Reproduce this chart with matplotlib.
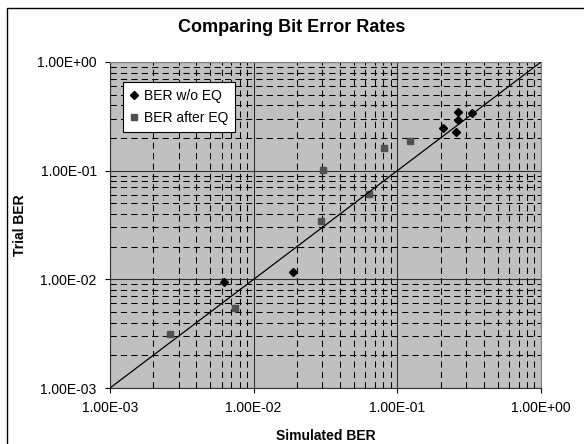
import matplotlib
matplotlib.use("Agg")
import matplotlib.pyplot as plt
from matplotlib.patches import Rectangle
from matplotlib.ticker import LogLocator, FuncFormatter, NullFormatter

plt.rcParams['font.family'] = ['Liberation Sans', 'DejaVu Sans']

# Data
wo_eq_x = [6.2e-3, 1.87e-2, 2.09e-1, 2.56e-1, 2.63e-1, 2.66e-1, 3.30e-1]
wo_eq_y = [9.4e-3, 1.16e-2, 2.46e-1, 2.25e-1, 3.47e-1, 2.92e-1, 3.37e-1]
after_eq_x = [2.62e-3, 7.4e-3, 2.92e-2, 3.02e-2, 6.35e-2, 8.1e-2, 1.22e-1]
after_eq_y = [3.12e-3, 5.4e-3, 3.47e-2, 1.01e-1, 6.14e-2, 1.63e-1, 1.89e-1]
ref_line = [1e-3, 1.0]
series_labels = ["BER w/o EQ", "BER after EQ"]
title = "Comparing Bit Error Rates"
x_title = "Simulated BER"
y_title = "Trial BER"

W, H = 584, 444
fig = plt.figure(figsize=(W / 100, H / 100), dpi=100)
left, right, top, bottom = 110, 541, 62, 388
ax = fig.add_axes([left / W, (H - bottom) / H, (right - left) / W, (bottom - top) / H])
ax.set_facecolor('#C0C0C0')
ax.set_xscale('log')
ax.set_yscale('log')
ax.set_xlim(1e-3, 1)
ax.set_ylim(1e-3, 1)

ax.xaxis.set_major_locator(LogLocator(base=10, numticks=10))
ax.yaxis.set_major_locator(LogLocator(base=10, numticks=10))
ax.xaxis.set_minor_locator(LogLocator(base=10, subs=range(2, 10), numticks=20))
ax.yaxis.set_minor_locator(LogLocator(base=10, subs=range(2, 10), numticks=20))
fmt = FuncFormatter(lambda v, p: f"{v:.2E}")
ax.xaxis.set_major_formatter(fmt)
ax.yaxis.set_major_formatter(fmt)
ax.xaxis.set_minor_formatter(NullFormatter())
ax.yaxis.set_minor_formatter(NullFormatter())

ax.set_axisbelow(True)
ax.grid(which='major', color='#303030', linewidth=0.8, linestyle='-')
ax.grid(which='minor', color='black', linewidth=0.75, linestyle=(0, (6, 4)))

ax.tick_params(which='major', direction='out', length=3.6, width=0.8, color='black',
               labelsize=10, pad=6)
ax.tick_params(which='minor', length=0)

for s in ['top', 'right']:
    ax.spines[s].set_color('#808080')
    ax.spines[s].set_linewidth(0.8)
for s in ['left', 'bottom']:
    ax.spines[s].set_color('#303030')
    ax.spines[s].set_linewidth(0.8)

ax.plot(wo_eq_x, wo_eq_y, linestyle='none', marker='D', markersize=4.5,
        color='black', label=series_labels[0], zorder=3)
ax.plot(after_eq_x, after_eq_y, linestyle='none', marker='s', markersize=5,
        color='#505050', label=series_labels[1], zorder=3)
ax.plot(ref_line, ref_line, color='black', linewidth=0.9, zorder=4)

leg = ax.legend(loc='upper left', bbox_to_anchor=((123 - left) / (right - left), (bottom - 82) / (bottom - top)),
                borderaxespad=0, fontsize=10, frameon=True, fancybox=False, shadow=False,
                handlelength=0.6, handletextpad=0.4, labelspacing=0.6, borderpad=0.5,
                markerscale=0.8)
leg.get_frame().set_edgecolor('black')
leg.get_frame().set_linewidth(0.8)
leg.get_frame().set_facecolor('white')
leg.get_frame().set_alpha(1)

fig.text(0.5, 1 - 27 / H, title, ha='center', va='center', fontsize=13, fontweight='bold')
fig.text((left + right) / 2 / W, 1 - 436 / H, x_title, ha='center', va='center',
         fontsize=10, fontweight='bold')
fig.text(20 / W, 1 - ((top + bottom) / 2) / H, y_title, ha='center', va='center',
         rotation=90, fontsize=10, fontweight='bold')

fig.patches.append(Rectangle((7 / W, -0.1), 2, 1 - 8 / H + 0.1, transform=fig.transFigure,
                             fill=False, edgecolor='black', linewidth=1))

fig.savefig('out.png', dpi=100)
